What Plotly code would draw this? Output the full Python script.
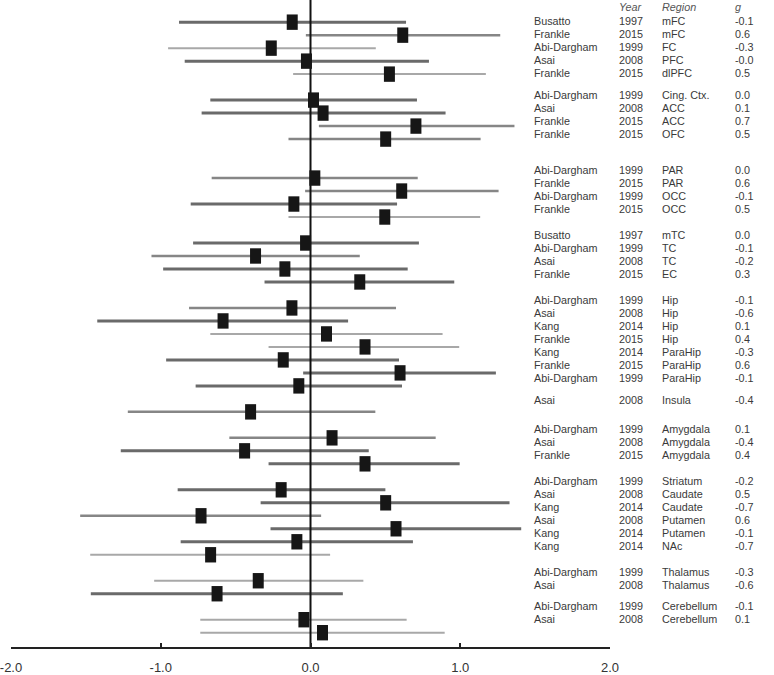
import plotly.graph_objects as go

# ---------------- data ----------------
authors = ["Busatto", "Frankle", "Abi-Dargham", "Asai", "Frankle",
           "Abi-Dargham", "Asai", "Frankle", "Frankle",
           "Abi-Dargham", "Frankle", "Abi-Dargham", "Frankle",
           "Busatto", "Abi-Dargham", "Asai", "Frankle",
           "Abi-Dargham", "Asai", "Kang", "Frankle", "Kang", "Frankle", "Abi-Dargham",
           "Asai",
           "Abi-Dargham", "Asai", "Frankle",
           "Abi-Dargham", "Asai", "Kang", "Asai", "Kang", "Kang",
           "Abi-Dargham", "Asai",
           "Abi-Dargham", "Asai"]
years = ["1997", "2015", "1999", "2008", "2015",
         "1999", "2008", "2015", "2015",
         "1999", "2015", "1999", "2015",
         "1997", "1999", "2008", "2015",
         "1999", "2008", "2014", "2015", "2014", "2015", "1999",
         "2008",
         "1999", "2008", "2015",
         "1999", "2008", "2014", "2008", "2014", "2014",
         "1999", "2008",
         "1999", "2008"]
regions = ["mFC", "mFC", "FC", "PFC", "dlPFC",
           "Cing. Ctx.", "ACC", "ACC", "OFC",
           "PAR", "PAR", "OCC", "OCC",
           "mTC", "TC", "TC", "EC",
           "Hip", "Hip", "Hip", "Hip", "ParaHip", "ParaHip", "ParaHip",
           "Insula",
           "Amygdala", "Amygdala", "Amygdala",
           "Striatum", "Caudate", "Caudate", "Putamen", "Putamen", "NAc",
           "Thalamus", "Thalamus",
           "Cerebellum", "Cerebellum"]
g_labels = ["-0.1", "0.6", "-0.3", "-0.0", "0.5",
            "0.0", "0.1", "0.7", "0.5",
            "0.0", "0.6", "-0.1", "0.5",
            "0.0", "-0.1", "-0.2", "0.3",
            "-0.1", "-0.6", "0.1", "0.4", "-0.3", "0.6", "-0.1",
            "-0.4",
            "0.1", "-0.4", "0.4",
            "-0.2", "0.5", "-0.7", "0.6", "-0.1", "-0.7",
            "-0.3", "-0.6",
            "-0.1", "0.1"]
group_sizes = [5, 4, 4, 4, 7, 1, 3, 6, 2, 2]

# plotted effect sizes and confidence limits (as drawn)
est = [-0.122, 0.616, -0.262, -0.027, 0.527,
       0.020, 0.084, 0.704, 0.502,
       0.029, 0.609, -0.111, 0.496,
       -0.033, -0.367, -0.171, 0.329,
       -0.124, -0.584, 0.107, 0.364, -0.182, 0.598, -0.078,
       -0.400,
       0.144, -0.440, 0.364,
       -0.196, 0.502, -0.731, 0.571, -0.091, -0.667,
       -0.349, -0.624,
       -0.044, 0.080]
lo = [-0.878, -0.031, -0.951, -0.840, -0.116,
      -0.669, -0.727, 0.056, -0.147,
      -0.660, -0.036, -0.800, -0.147,
      -0.784, -1.062, -0.984, -0.307,
      -0.811, -1.424, -0.669, -0.280, -0.964, -0.049, -0.767,
      -1.220,
      -0.542, -1.267, -0.280,
      -0.887, -0.333, -1.538, -0.267, -0.867, -1.471,
      -1.044, -1.467,
      -0.736, -0.736]
hi = [0.638, 1.267, 0.436, 0.791, 1.171,
      0.711, 0.902, 1.362, 1.136,
      0.716, 1.256, 0.578, 1.133,
      0.724, 0.329, 0.649, 0.960,
      0.571, 0.251, 0.882, 0.993, 0.591, 1.238, 0.611,
      0.433,
      0.836, 0.389, 0.996,
      0.500, 1.329, 0.071, 1.407, 0.684, 0.131,
      0.353, 0.216,
      0.642, 0.896]
# line weight class per study (h = heavy, m = medium, l = light)
weight = ["h", "m", "l", "h", "l",
          "h", "h", "m", "m",
          "m", "m", "h", "l",
          "h", "m", "h", "h",
          "m", "h", "l", "l", "h", "h", "h",
          "m",
          "m", "h", "h",
          "h", "h", "m", "h", "h", "l",
          "l", "h",
          "l", "l"]
x_ticks = [-2, -1, 0, 1, 2]
x_tick_labels = ["-2.0", "-1.0", "0.0", "1.0", "2.0"]

# ---------------- layout helpers ----------------
marker_gaps = [1, 2, 1, 1, 1, 1, 1, 1, 1]            # extra empty rows between groups (plot)
text_gaps = [0.72, 1.77, 0.98, 1.05, 0.72, 1.21, 1.0, 0.97, 0.64]  # (text column)
text_offset = -0.12
text_pitch = 1.0

ypos, tpos = [], []
r, t = 0.0, 0.0
for gi, n in enumerate(group_sizes):
    for k in range(n):
        ypos.append(r)
        tpos.append(text_offset + text_pitch * t)
        r += 1
        t += 1
    if gi < len(marker_gaps):
        r += marker_gaps[gi]
        t += text_gaps[gi]

styles = {"h": ("#6a6a6a", 3.0), "m": ("#868686", 2.5), "l": ("#a8a8a8", 2.0)}

fig = go.Figure()
for w, (col, lw) in styles.items():
    idx = [i for i in range(len(est)) if weight[i] == w]
    fig.add_trace(go.Scatter(
        x=[est[i] for i in idx], y=[ypos[i] for i in idx],
        mode="markers", marker=dict(size=1, opacity=0),
        error_x=dict(type="data", symmetric=False,
                     array=[hi[i] - est[i] for i in idx],
                     arrayminus=[est[i] - lo[i] for i in idx],
                     color=col, thickness=lw, width=0),
        showlegend=False, hoverinfo="skip"))

Y_TOP, Y_BOT = -1.706, 48.1
fig.add_trace(go.Scatter(x=[0, 0], y=[Y_TOP, Y_BOT], mode="lines",
                         line=dict(color="#111111", width=2),
                         showlegend=False, hoverinfo="skip"))

fig.add_trace(go.Scatter(
    x=est, y=ypos, mode="markers",
    marker=dict(symbol="line-ns", size=11, color="#161616",
                line=dict(width=11, color="#161616")),
    showlegend=False))

font = "Liberation Sans, Arial, sans-serif"
cols = [(0.869, authors), (1.012, years), (1.084, regions), (1.205, g_labels)]
ann = []
for xp, vals in cols:
    for v, yy in zip(vals, tpos):
        ann.append(dict(x=xp, xref="paper", y=yy, yref="y", text=v,
                        showarrow=False, xanchor="left", yanchor="middle",
                        font=dict(family=font, size=10.8, color="#3a3a3a")))
for xp, h in [(1.012, "Year"), (1.084, "Region"), (1.205, "g")]:
    ann.append(dict(x=xp, xref="paper", y=-1.19, yref="y", text="<i>%s</i>" % h,
                    showarrow=False, xanchor="left", yanchor="middle",
                    font=dict(family=font, size=10.8, color="#555555")))

fig.update_layout(
    width=774, height=675,
    margin=dict(l=10, r=164, t=0, b=24),
    paper_bgcolor="white", plot_bgcolor="white",
    annotations=ann,
    xaxis=dict(range=[-2, 2], tickvals=x_ticks, ticktext=x_tick_labels,
               showgrid=False, zeroline=False, showline=True,
               linecolor="#222222", linewidth=2, ticks="inside", ticklen=4,
               tickwidth=1.5, tickcolor="#222222", ticklabelstandoff=7,
               ticklabeloverflow="allow",
               tickfont=dict(family=font, size=13, color="#333333")),
    yaxis=dict(range=[Y_BOT, Y_TOP], visible=False, showgrid=False, zeroline=False),
)

fig.write_html("out.html", config={"displayModeBar": False},
               post_script="document.body.style.margin='0';document.body.style.overflow='hidden';")
